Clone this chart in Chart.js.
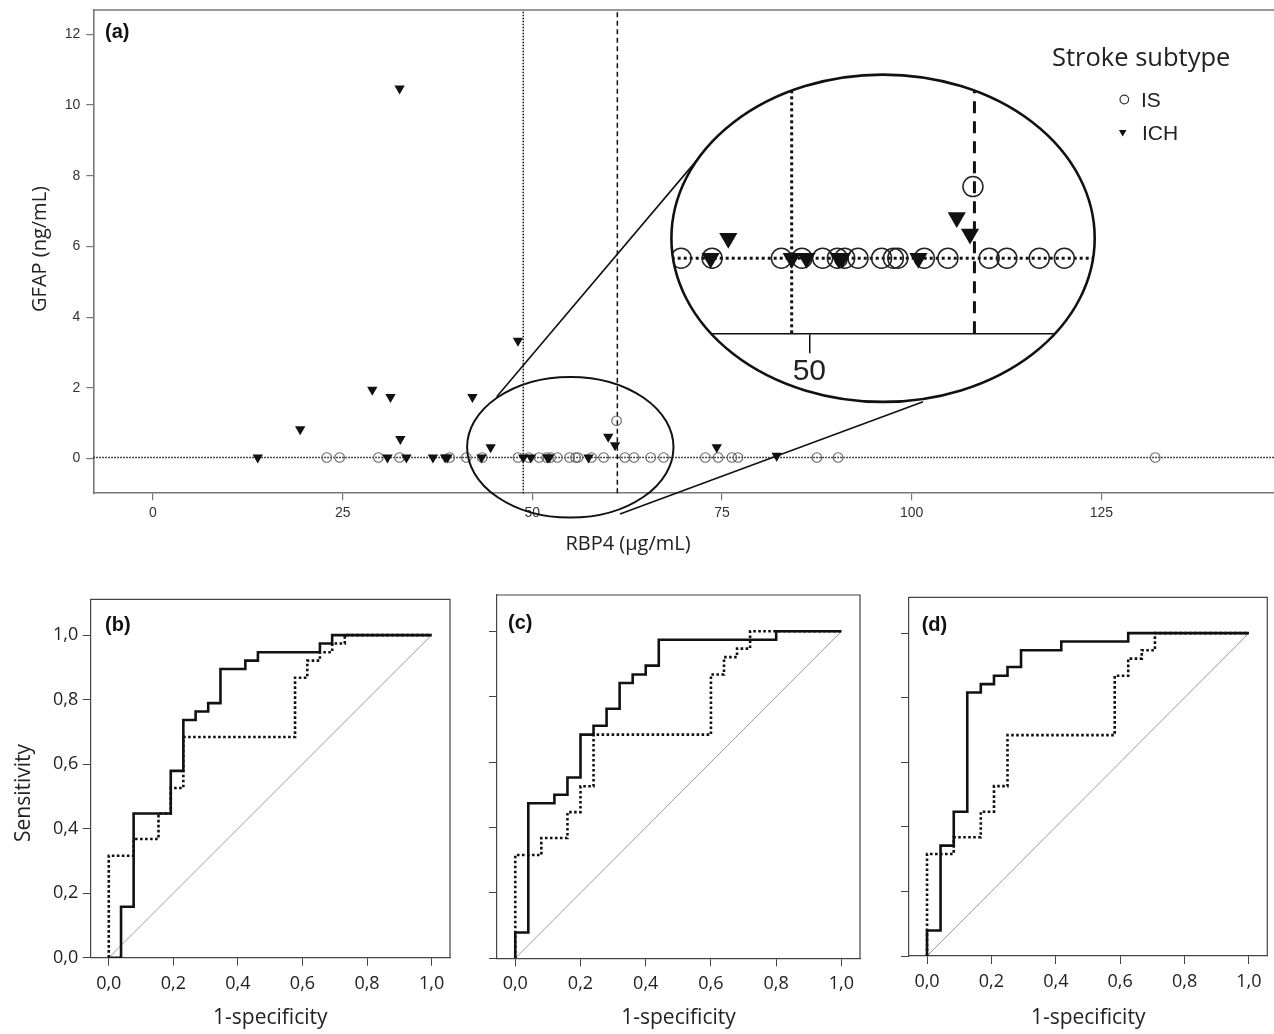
<!DOCTYPE html>
<html>
<head>
<meta charset="utf-8">
<script src="https://cdn.jsdelivr.net/npm/chart.js@4.4.1/dist/chart.umd.min.js"></script>
<style>
  body { margin: 0; background: #fff; }
  #page { position: relative; width: 1274px; height: 1034px; overflow: hidden; background: #fff; }
  canvas { position: absolute; }
</style>
</head>
<body>
<div id="page">
  <canvas id="chartA" width="1274" height="570" style="left:0px;top:0px"></canvas>
  <canvas id="chartZoom" width="430" height="332" style="left:669px;top:73px"></canvas>
  <canvas id="chartB" width="455" height="444" style="left:0px;top:590px"></canvas>
  <canvas id="chartC" width="410" height="444" style="left:455px;top:590px"></canvas>
  <canvas id="chartD" width="409" height="444" style="left:865px;top:590px"></canvas>
</div>
<script>
// === Datos panel (a): RBP4 vs GFAP ===
const isRbp4 = [22.9, 24.6, 29.7, 32.5, 39.1, 41.3, 43.4, 48.1, 49.5, 50.9, 51.9, 52.4, 53.3, 54.9, 55.7,
                56.0, 57.8, 59.4, 61.1, 62.2, 63.4, 65.6, 67.3, 72.8, 74.5, 76.3, 77.1, 87.5, 90.3, 132.1];
const isGfap = [0.03, 0.03, 0.03, 0.03, 0.03, 0.03, 0.03, 0.03, 0.03, 0.03, 0.03, 0.03, 0.03, 0.03, 0.03,
                0.03, 0.03, 0.03, 1.07, 0.03, 0.03, 0.03, 0.03, 0.03, 0.03, 0.03, 0.03, 0.03, 0.03, 0.03];
const ichRbp4 = [13.8, 19.4, 28.9, 30.9, 31.3, 32.5, 32.6, 33.4, 36.9, 38.5, 38.8, 42.1,
                 43.3, 44.5, 48.1, 48.8, 49.8, 52.0, 52.2, 57.4, 60.0, 60.9, 74.3, 82.2];
const ichGfap = [0.03, 0.83, 1.95, 0.03, 1.74, 10.47, 0.55, 0.03, 0.03, 0.03, 0.03, 1.74,
                 0.03, 0.32, 3.33, 0.03, 0.03, 0.03, 0.03, 0.03, 0.62, 0.38, 0.32, 0.08];
const rbp4Ticks = [0, 25, 50, 75, 100, 125];
const gfapTicks = [0, 2, 4, 6, 8, 10, 12];
const zoomTicks = [50];
const gfapCutoff = 0.03;
const rbp4Cutoffs = [48.8, 61.2]; // punteado, discontinuo

// === Datos curvas ROC (1-especificidad, sensibilidad) ===
const rocTicks = [0, 0.2, 0.4, 0.6, 0.8, 1.0];
const diagX = [0, 1];
const diagY = [0, 1];

const bSolidFpr = [0, 0.038, 0.077, 0.192, 0.231, 0.269, 0.308, 0.346, 0.423, 0.462, 0.654, 0.692, 1];
const bSolidTpr = [0, 0.158, 0.447, 0.579, 0.737, 0.763, 0.789, 0.895, 0.921, 0.947, 0.974, 1, 1];
const bDotFpr = [0, 0, 0.077, 0.154, 0.192, 0.231, 0.577, 0.615, 0.654, 0.692, 0.731, 1];
const bDotTpr = [0, 0.316, 0.368, 0.447, 0.526, 0.684, 0.868, 0.921, 0.947, 0.974, 1, 1];

const cSolidFpr = [0, 0, 0.04, 0.12, 0.16, 0.2, 0.24, 0.28, 0.32, 0.36, 0.4, 0.44, 0.8, 1];
const cSolidTpr = [0, 0.079, 0.474, 0.5, 0.553, 0.684, 0.711, 0.763, 0.842, 0.868, 0.895, 0.974, 1, 1];
const cDotFpr = [0, 0, 0.08, 0.16, 0.2, 0.24, 0.6, 0.64, 0.68, 0.72, 1];
const cDotTpr = [0, 0.316, 0.368, 0.447, 0.526, 0.684, 0.868, 0.921, 0.947, 1, 1];

const dSolidFpr = [0, 0, 0.042, 0.083, 0.125, 0.167, 0.208, 0.25, 0.292, 0.417, 0.625, 1];
const dSolidTpr = [0, 0.079, 0.342, 0.447, 0.816, 0.842, 0.868, 0.895, 0.947, 0.974, 1, 1];
const dDotFpr = [0, 0, 0.083, 0.167, 0.208, 0.25, 0.583, 0.625, 0.667, 0.708, 1];
const dDotTpr = [0, 0.316, 0.368, 0.447, 0.526, 0.684, 0.868, 0.921, 0.947, 1, 1];

// zona ampliada (en unidades de datos)
const zoom = { cx: 55, cy: 0.32, rx: 13.6, ry: 1.99, insetRx: 14.36, insetRy: 2.376 };
const connectors = [[45.3, 1.75, 73.8, 8.98], [61.55, -1.57, 101.5, 1.61]];

Chart.defaults.font.family = "'Liberation Sans', Arial, sans-serif";

const toPts = (xs, ys) => xs.map((x, i) => ({ x: x, y: ys[i] }));
const noPad = s => { s.paddingTop = 0; s.paddingBottom = 0; s.paddingLeft = 0; s.paddingRight = 0; };
const fixedTicks = arr => s => { s.ticks = arr.map(v => ({ value: v })); };
const commaFmt = v => v.toFixed(1).replace('.', ',');

function textsPlugin(items) {
  return {
    id: 'texts',
    afterDraw(chart) {
      const ctx = chart.ctx;
      items.forEach(t => {
        ctx.save();
        ctx.font = t.font;
        ctx.fillStyle = t.color || '#222';
        ctx.textAlign = t.align || 'center';
        ctx.textBaseline = 'middle';
        ctx.translate(t.x, t.y);
        if (t.rot) ctx.rotate(t.rot);
        ctx.fillText(t.text, 0, 0);
        ctx.restore();
      });
    }
  };
}

function framePlugin(color, width, right) {
  return {
    id: 'frame',
    afterDraw(chart) {
      const { ctx, chartArea: a } = chart;
      ctx.save();
      ctx.strokeStyle = color;
      ctx.lineWidth = width;
      ctx.beginPath();
      ctx.moveTo(a.left, a.top);
      ctx.lineTo(a.right, a.top);
      if (right) ctx.lineTo(a.right, a.bottom);
      ctx.stroke();
      ctx.restore();
    }
  };
}

function cutoffPlugin(width, dot, dash) {
  return {
    id: 'cutoffs',
    beforeDatasetsDraw(chart) {
      const { ctx, chartArea: a, scales: { x, y } } = chart;
      ctx.save();
      ctx.strokeStyle = '#111';
      ctx.lineWidth = width;
      ctx.setLineDash(dot);
      const gy = y.getPixelForValue(gfapCutoff);
      ctx.beginPath(); ctx.moveTo(a.left, gy); ctx.lineTo(a.right, gy); ctx.stroke();
      rbp4Cutoffs.forEach((v, i) => {
        ctx.setLineDash(i === 0 ? dot : dash);
        const px = x.getPixelForValue(v);
        ctx.beginPath(); ctx.moveTo(px, a.bottom); ctx.lineTo(px, a.top); ctx.stroke();
      });
      ctx.restore();
    }
  };
}

function ellipsePath(chart, rx, ry) {
  const { ctx, scales: { x, y } } = chart;
  const kx = x.getPixelForValue(1) - x.getPixelForValue(0);
  const ky = y.getPixelForValue(0) - y.getPixelForValue(1);
  ctx.beginPath();
  ctx.ellipse(x.getPixelForValue(zoom.cx), y.getPixelForValue(zoom.cy), rx * kx, ry * ky, 0, 0, Math.PI * 2);
}

// elipse pequeña y conectores del panel (a)
const zoomMarks = {
  id: 'zoomMarks',
  afterDraw(chart) {
    const { ctx, scales: { x, y } } = chart;
    ctx.save();
    ctx.strokeStyle = '#111';
    ctx.lineWidth = 2;
    ellipsePath(chart, zoom.rx, zoom.ry);
    ctx.stroke();
    ctx.lineWidth = 1.6;
    connectors.forEach(c => {
      ctx.beginPath();
      ctx.moveTo(x.getPixelForValue(c[0]), y.getPixelForValue(c[1]));
      ctx.lineTo(x.getPixelForValue(c[2]), y.getPixelForValue(c[3]));
      ctx.stroke();
    });
    ctx.restore();
  }
};

// leyenda "Stroke subtype"
const legendA = {
  id: 'legendA',
  afterDraw(chart) {
    const ctx = chart.ctx;
    ctx.save();
    ctx.fillStyle = '#222';
    ctx.textBaseline = 'middle';
    ctx.textAlign = 'left';
    ctx.font = "25.5px 'Open Sans'";
    ctx.fillText('Stroke subtype', 1052, 59);
    ctx.font = "21px 'Liberation Sans'";
    const ds = chart.data.datasets;
    // IS
    ctx.strokeStyle = '#333';
    ctx.lineWidth = 1.2;
    ctx.beginPath(); ctx.arc(1124.3, 99.5, 4.3, 0, Math.PI * 2); ctx.stroke();
    ctx.fillText(ds[0].label, 1141, 101);
    // ICH
    const r = 4.4, cx = 1122.7, cy = 132.2;
    ctx.fillStyle = '#111';
    ctx.beginPath();
    ctx.moveTo(cx, cy + r);
    ctx.lineTo(cx - r * 0.866, cy - r / 2);
    ctx.lineTo(cx + r * 0.866, cy - r / 2);
    ctx.closePath(); ctx.fill();
    ctx.fillStyle = '#222';
    ctx.fillText(ds[1].label, 1142, 134);
    ctx.restore();
  }
};

// recorte elíptico del recuadro ampliado
const zoomClip = {
  id: 'zoomClip',
  beforeDraw(chart) {
    const ctx = chart.ctx;
    ctx.save();
    ellipsePath(chart, zoom.insetRx, zoom.insetRy);
    ctx.fillStyle = '#fff';
    ctx.fill();
    ctx.clip();
  },
  afterDraw(chart) {
    const ctx = chart.ctx;
    ctx.restore();
    ctx.save();
    ctx.strokeStyle = '#111';
    ctx.lineWidth = 2.6;
    ellipsePath(chart, zoom.insetRx, zoom.insetRy);
    ctx.stroke();
    ctx.restore();
  }
};

// === Panel (a) ===
new Chart(document.getElementById('chartA'), {
  type: 'scatter',
  data: {
    datasets: [
      {
        label: 'IS',
        data: toPts(isRbp4, isGfap),
        pointStyle: 'circle',
        pointRadius: 4.8,
        pointBackgroundColor: 'rgba(0,0,0,0)',
        pointBorderColor: '#666',
        pointBorderWidth: 1.1,
        order: 1
      },
      {
        label: 'ICH',
        data: toPts(ichRbp4, ichGfap),
        pointStyle: 'triangle',
        pointRotation: 180,
        pointRadius: 6,
        pointBackgroundColor: '#111',
        pointBorderColor: '#111',
        pointBorderWidth: 0,
        order: 0
      }
    ]
  },
  options: {
    responsive: false,
    animation: false,
    devicePixelRatio: 1,
    layout: { autoPadding: false, padding: { top: 10, left: 0, right: 0, bottom: 0 } },
    plugins: { legend: { display: false }, tooltip: { enabled: false } },
    scales: {
      x: {
        type: 'linear', min: -7.87, max: 147.75,
        afterBuildTicks: fixedTicks(rbp4Ticks),
        afterFit: s => { s.height = 76.8; noPad(s); },
        grid: { drawOnChartArea: false, tickLength: 7, color: '#777', lineWidth: 1.2 },
        border: { color: '#777', width: 1.6 },
        ticks: { font: { size: 14 }, color: '#333', padding: 5, autoSkip: false, maxRotation: 0 }
      },
      y: {
        type: 'linear', min: -0.98, max: 12.69,
        afterBuildTicks: fixedTicks(gfapTicks),
        afterFit: s => { s.width = 93.3; noPad(s); },
        grid: { drawOnChartArea: false, tickLength: 7, color: '#777', lineWidth: 1.2 },
        border: { color: '#777', width: 1.6 },
        ticks: { font: { size: 14 }, color: '#333', padding: 6, autoSkip: false }
      }
    }
  },
  plugins: [
    cutoffPlugin(1.5, [1.5, 1.5], [5, 3.5]),
    framePlugin('#777', 1.6, false),
    zoomMarks,
    legendA,
    textsPlugin([
      { text: '(a)', x: 105, y: 32, font: "bold 20px 'Liberation Sans'", align: 'left', color: '#111' },
      { text: 'GFAP (ng/mL)', x: 40, y: 249, rot: -Math.PI / 2, font: "20px 'Open Sans'" },
      { text: 'RBP4 (µg/mL)', x: 628, y: 544, font: "20px 'Open Sans'" }
    ])
  ]
});

// === Recuadro ampliado ===
new Chart(document.getElementById('chartZoom'), {
  type: 'scatter',
  data: {
    datasets: [
      {
        label: 'IS',
        data: toPts(isRbp4, isGfap),
        pointStyle: 'circle',
        pointRadius: 10,
        pointBackgroundColor: 'rgba(0,0,0,0)',
        pointBorderColor: '#222',
        pointBorderWidth: 1.5,
        order: 1
      },
      {
        label: 'ICH',
        data: toPts(ichRbp4, ichGfap),
        pointStyle: 'triangle',
        pointRotation: 180,
        pointRadius: 10.5,
        pointBackgroundColor: '#111',
        pointBorderWidth: 0,
        order: 0
      }
    ]
  },
  options: {
    responsive: false,
    animation: false,
    devicePixelRatio: 1,
    layout: { autoPadding: false, padding: { top: 2, left: 2.7, right: 4, bottom: 0 } },
    plugins: { legend: { display: false }, tooltip: { enabled: false } },
    scales: {
      x: {
        type: 'linear', min: 40.66, max: 69.38,
        afterBuildTicks: fixedTicks(zoomTicks),
        afterFit: s => { s.height = 71.7; noPad(s); },
        grid: { drawOnChartArea: false, tickLength: 20, color: '#111', lineWidth: 1.5 },
        border: { color: '#111', width: 1.5 },
        ticks: { font: { size: 30 }, color: '#222', padding: 0, maxRotation: 0 }
      },
      y: { type: 'linear', display: false, min: -1.06, max: 2.69 }
    }
  },
  plugins: [zoomClip, cutoffPlugin(3, [3, 3], [12, 8])]
});

// === Curvas ROC (b), (c), (d) ===
function drawRoc(id, solidX, solidY, dotX, dotY, g) {
  return new Chart(document.getElementById(id), {
    type: 'line',
    data: {
      datasets: [
        { data: toPts(solidX, solidY), stepped: 'before', borderColor: '#111', borderWidth: 2.6, pointRadius: 0 },
        { data: toPts(dotX, dotY), stepped: 'before', borderColor: '#111', borderWidth: 2.6, borderDash: [2.6, 2.4], pointRadius: 0 },
        { data: toPts(diagX, diagY), borderColor: '#9a9a9a', borderWidth: 1, pointRadius: 0 }
      ]
    },
    options: {
      responsive: false,
      animation: false,
      devicePixelRatio: 1,
      layout: { autoPadding: false, padding: { top: g.top, right: g.right, left: 0, bottom: 0 } },
      plugins: { legend: { display: false }, tooltip: { enabled: false } },
      scales: {
        x: {
          type: 'linear', min: -0.056, max: 1.057,
          afterBuildTicks: fixedTicks(rocTicks),
          afterFit: s => { s.height = g.xh; noPad(s); },
          grid: { drawOnChartArea: false, tickLength: 8, color: '#444', lineWidth: 1 },
          border: { color: '#444', width: 1.2 },
          ticks: { font: { family: 'Open Sans', size: 18 }, color: '#222', padding: 7, callback: commaFmt, autoSkip: false, maxRotation: 0 },
          title: { display: true, text: '1-specificity', font: { family: 'Open Sans', size: 21 }, color: '#222', padding: { top: 0, bottom: 3.4 } }
        },
        y: {
          type: 'linear', min: 0, max: 1.111,
          afterBuildTicks: fixedTicks(rocTicks),
          afterFit: s => { s.width = g.yw; noPad(s); },
          grid: { drawOnChartArea: false, tickLength: 8, color: '#444', lineWidth: 1 },
          border: { color: '#444', width: 1.2 },
          ticks: { display: g.yLabels, font: { family: 'Open Sans', size: 18 }, color: '#222', padding: 4.4, callback: commaFmt, autoSkip: false }
        }
      }
    },
    plugins: [framePlugin('#444', 1.2, true), textsPlugin(g.texts)]
  });
}

drawRoc('chartB', bSolidFpr, bSolidTpr, bDotFpr, bDotTpr, {
  top: 9.3, right: 5, yw: 90.7, xh: 76.3, yLabels: true,
  texts: [
    { text: '(b)', x: 105, y: 35, font: "bold 20px 'Liberation Sans'", align: 'left', color: '#111' },
    { text: 'Sensitivity', x: 24, y: 203, rot: -Math.PI / 2, font: "21px 'Open Sans'" }
  ]
});
drawRoc('chartC', cSolidFpr, cSolidTpr, cDotFpr, cDotTpr, {
  top: 5, right: 5, yw: 42, xh: 75.7, yLabels: false,
  texts: [{ text: '(c)', x: 53, y: 33, font: "bold 20px 'Liberation Sans'", align: 'left', color: '#111' }]
});
drawRoc('chartD', dSolidFpr, dSolidTpr, dDotFpr, dDotTpr, {
  top: 7.3, right: 6.7, yw: 44, xh: 78, yLabels: false,
  texts: [{ text: '(d)', x: 56.7, y: 35, font: "bold 20px 'Liberation Sans'", align: 'left', color: '#111' }]
});
</script>
</body>
</html>
